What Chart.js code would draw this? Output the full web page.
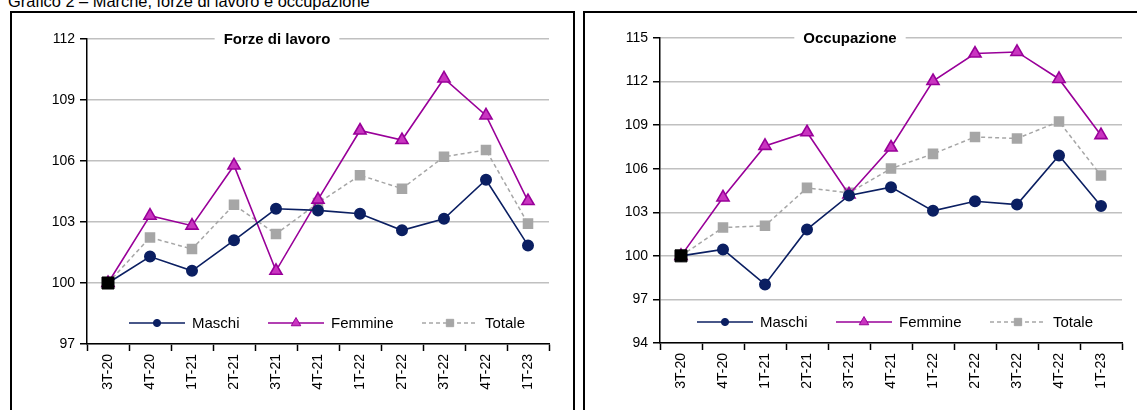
<!DOCTYPE html>
<html>
<head>
<meta charset="utf-8">
<script src="https://cdn.jsdelivr.net/npm/chart.js@4.4.0/dist/chart.umd.min.js"></script>
<style>
body{margin:0;background:#fff;width:1137px;height:410px;overflow:hidden;position:relative;font-family:"Liberation Sans",Arial,sans-serif}
#head{position:absolute;left:8px;top:-8px;font-size:16.4px;white-space:nowrap;color:#000}
.panel{position:absolute;top:11px;height:420px;border:2px solid #000;box-sizing:border-box}
#p1{left:10px;width:565px}
#p2{left:583px;width:600px}
.wrap{position:absolute;top:0;height:410px}
#w1{left:0;width:575px}
#w2{left:576px;width:561px}
</style>
</head>
<body>
<div id="head">Grafico 2 – Marche, forze di lavoro e occupazione</div>
<div class="panel" id="p1"></div>
<div class="panel" id="p2"></div>
<div class="wrap" id="w1"><canvas id="c1"></canvas></div>
<div class="wrap" id="w2"><canvas id="c2"></canvas></div>
<script>
// dati (indici, 3T-20 = 100)
const quarters = ['3T-20','4T-20','1T-21','2T-21','3T-21','4T-21','1T-22','2T-22','3T-22','4T-22','1T-23'];
const seriesNames = ['Maschi','Femmine','Totale'];
const baseValue = [100];

const forzeMaschi  = [100, 101.3, 100.6, 102.1, 103.65, 103.57, 103.41, 102.59, 103.16, 105.08, 101.85];
const forzeFemmine = [100, 103.31, 102.82, 105.78, 100.6, 104.1, 107.5, 107.03, 110.06, 108.24, 104.03];
const forzeTotale  = [100, 102.24, 101.67, 103.85, 102.41, 103.93, 105.3, 104.64, 106.21, 106.54, 102.92];
const forzeTicks = [97, 100, 103, 106, 109, 112];

const occMaschi  = [100, 100.44, 98.03, 101.82, 104.16, 104.73, 103.1, 103.76, 103.53, 106.91, 103.44];
const occFemmine = [100, 104.02, 107.57, 108.51, 104.23, 107.46, 112.04, 113.93, 114.04, 112.18, 108.31];
const occTotale  = [100, 101.95, 102.07, 104.68, 104.34, 106.01, 107.02, 108.19, 108.08, 109.25, 105.53];
const occTicks = [94, 97, 100, 103, 106, 109, 112, 115];

Chart.defaults.font.family = '"Liberation Sans", Arial, sans-serif';
Chart.defaults.font.size = 14;
Chart.defaults.color = '#000';

const innerTitle = {
    id: 'innerTitle',
    afterDraw(chart, args, opts) {
        const ctx = chart.ctx;
        const a = chart.chartArea;
        ctx.save();
        ctx.font = 'bold 15px "Liberation Sans", Arial, sans-serif';
        const w = ctx.measureText(opts.text).width;
        const cx = a.left + opts.offset;
        ctx.fillStyle = '#fff';
        ctx.fillRect(cx - w / 2 - 9, a.top - 4, w + 18, 8);
        ctx.fillStyle = '#000';
        ctx.textAlign = 'center';
        ctx.textBaseline = 'middle';
        ctx.fillText(opts.text, cx, a.top + 1);
        ctx.restore();
    }
};

const lineLegend = {
    id: 'lineLegend',
    afterDraw(chart, args, opts) {
        const ctx = chart.ctx;
        const a = chart.chartArea;
        const y = a.bottom - 21;
        let k = 0;
        chart.data.datasets.forEach(function(ds) {
            if (!ds.label) return;
            const x0 = a.left + opts.x[k];
            ctx.save();
            ctx.strokeStyle = ds.borderColor;
            ctx.lineWidth = ds.borderWidth;
            ctx.setLineDash(ds.borderDash || []);
            ctx.beginPath();
            ctx.moveTo(x0, y);
            ctx.lineTo(x0 + 56, y);
            ctx.stroke();
            ctx.setLineDash([]);
            ctx.fillStyle = ds.pointBackgroundColor;
            ctx.strokeStyle = ds.pointBorderColor;
            ctx.lineWidth = 1;
            Chart.helpers.drawPoint(ctx, {pointStyle: ds.pointStyle, radius: ds.legendRadius, rotation: 0, borderWidth: 1}, x0 + 28, y);
            ctx.fillStyle = '#000';
            ctx.font = '15px "Liberation Sans", Arial, sans-serif';
            ctx.textBaseline = 'middle';
            ctx.fillText(ds.label, x0 + 63, y + 1);
            ctx.restore();
            k++;
        });
    }
};

function makeChart(id, title, maschi, femmine, totale, ticks, geom) {
    const data = {
        labels: quarters,
        datasets: [
            {
                label: '',
                data: baseValue,
                showLine: false,
                pointStyle: 'rect',
                pointRadius: 8.5,
                pointBackgroundColor: '#000',
                pointBorderColor: '#000',
                borderColor: '#000'
            },
            {
                label: seriesNames[0],
                data: maschi,
                borderColor: '#0b1f62',
                borderWidth: 1.6,
                pointStyle: 'circle',
                pointRadius: 5.2,
                legendRadius: 3.6,
                pointBackgroundColor: '#0b1f62',
                pointBorderColor: '#0b1f62'
            },
            {
                label: seriesNames[1],
                data: femmine,
                borderColor: '#990099',
                borderWidth: 1.6,
                pointStyle: 'triangle',
                pointRadius: 7,
                legendRadius: 5.5,
                pointBackgroundColor: '#c935c0',
                pointBorderColor: '#990099'
            },
            {
                label: seriesNames[2],
                data: totale,
                borderColor: '#a6a6a6',
                borderWidth: 1.5,
                borderDash: [4, 3],
                pointStyle: 'rect',
                pointRadius: 6.4,
                legendRadius: 5.2,
                pointBackgroundColor: '#a6a6a6',
                pointBorderColor: '#a6a6a6'
            }
        ]
    };
    const config = {
        type: 'line',
        data: data,
        options: {
            responsive: true,
            maintainAspectRatio: false,
            animation: false,
            layout: { padding: { left: 0, top: geom.top, right: geom.right, bottom: 0 } },
            elements: { line: { tension: 0 }, point: { borderWidth: 1 } },
            scales: {
                x: {
                    offset: true,
                    afterFit: function(s) { s.height = geom.xHeight; },
                    grid: { offset: true, drawOnChartArea: false, tickLength: 7, tickColor: '#000', tickWidth: 1.5 },
                    border: { color: '#000', width: 1.5 },
                    ticks: { minRotation: 90, maxRotation: 90, autoSkip: false, padding: 3 }
                },
                y: {
                    min: ticks[0],
                    max: ticks[ticks.length - 1],
                    afterFit: function(s) { s.width = geom.yWidth; },
                    afterBuildTicks: function(s) { s.ticks = ticks.map(function(v) { return { value: v }; }); },
                    grid: { color: '#c0c0c0', lineWidth: 1.5, tickLength: 7, tickColor: '#000', tickWidth: 1.5 },
                    border: { color: '#000', width: 1.5 },
                    ticks: { padding: 5 }
                }
            },
            plugins: {
                legend: { display: false },
                tooltip: { enabled: false },
                innerTitle: { text: title, offset: 190 },
                lineLegend: { x: geom.legendX }
            }
        },
        plugins: [innerTitle, lineLegend]
    };
    return new Chart(document.getElementById(id), config);
}

makeChart('c1', 'Forze di lavoro', forzeMaschi, forzeFemmine, forzeTotale, forzeTicks,
    { top: 39, right: 26, xHeight: 66, yWidth: 87, legendX: [42, 181, 335] });
makeChart('c2', 'Occupazione', occMaschi, occFemmine, occTotale, occTicks,
    { top: 38, right: 15, xHeight: 67, yWidth: 84, legendX: [37, 176, 330] });
</script>
</body>
</html>
